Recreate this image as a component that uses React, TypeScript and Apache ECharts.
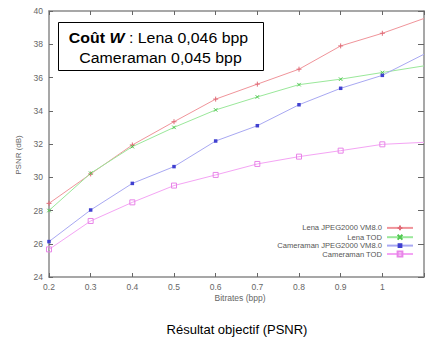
import React, { useEffect, useRef } from "react";
import * as echarts from "echarts";

const bitrates = [0.2, 0.3, 0.4, 0.5, 0.6, 0.7, 0.8, 0.9, 1.0, 1.1];
const lenaJpeg = [28.43, 30.2, 31.94, 33.34, 34.7, 35.6, 36.5, 37.9, 38.66, 39.55];
const lenaTod = [28.0, 30.24, 31.84, 33.0, 34.05, 34.83, 35.57, 35.9, 36.3, 36.7];
const cameraJpeg = [26.13, 28.03, 29.63, 30.64, 32.18, 33.1, 34.36, 35.35, 36.13, 37.4];
const cameraTod = [25.66, 27.37, 28.49, 29.5, 30.14, 30.8, 31.24, 31.6, 31.98, 32.1];
const seriesNames = ["Lena JPEG2000 VM8.0", "Lena TOD", "Cameraman JPEG2000 VM8.0", "Cameraman TOD"];
const yTicks = { min: 24, max: 40, interval: 2 };
const xTicks = { min: 0.2, max: 1.1, interval: 0.1 };

const FONT = "'Liberation Sans', Arial, sans-serif";

export default function App() {
  const ref = useRef<HTMLDivElement>(null);
  useEffect(() => {
    const chart = echarts.init(ref.current!, null, { renderer: "svg" });
    const pair = (ys: number[]) =>
      bitrates.map((x, i) =>
        x > 1.05 ? { value: [x, ys[i]], symbol: "none" } : { value: [x, ys[i]] }
      );
    const axisGrey = "#8a8a8a";
    const mk = (name: string, data: number[], lineColor: string, symbol: string, symColor: string, filled: boolean, size: number) => ({
      name,
      type: "line",
      data: pair(data),
      symbol,
      symbolSize: size,
      showSymbol: true,
      lineStyle: { color: lineColor, width: 1 },
      itemStyle: filled
        ? { color: symColor, borderColor: symColor, borderWidth: 0 }
        : { color: "none", borderColor: symColor, borderWidth: 1 },
      emphasis: { disabled: true },
      clip: true,
    });
    chart.setOption({
      animation: false,
      backgroundColor: "#ffffff",
      textStyle: { fontFamily: FONT },
      grid: { left: 49, top: 11, bottom: 63, right: -4, containLabel: false },
      xAxis: [
        {
          type: "value",
          min: xTicks.min,
          max: xTicks.max,
          interval: xTicks.interval,
          position: "bottom",
          axisLine: { show: true, lineStyle: { color: axisGrey, width: 1.5 } },
          axisTick: { show: true, inside: true, length: 4, lineStyle: { color: "#666" } },
          splitLine: { show: false },
          axisLabel: {
            fontSize: 8.5,
            color: "#666",
            margin: 5,
            fontFamily: FONT,
            formatter: (v: number) => (v > 1.05 ? "" : String(+v.toFixed(1))),
          },
        },
        {
          type: "value",
          min: xTicks.min,
          max: xTicks.max,
          interval: xTicks.interval,
          position: "top",
          axisLine: { show: true, lineStyle: { color: axisGrey, width: 1.5 } },
          axisTick: { show: true, inside: true, length: 4, lineStyle: { color: "#666" } },
          splitLine: { show: false },
          axisLabel: { show: false },
        },
      ],
      yAxis: [
        {
          type: "value",
          min: yTicks.min,
          max: yTicks.max,
          interval: yTicks.interval,
          position: "left",
          axisLine: { show: true, lineStyle: { color: axisGrey, width: 1.5 } },
          axisTick: { show: true, inside: true, length: 4, lineStyle: { color: "#666" } },
          splitLine: { show: false },
          axisLabel: { fontSize: 8.5, color: "#666", margin: 6, fontFamily: FONT },
        },
        {
          type: "value",
          min: yTicks.min,
          max: yTicks.max,
          interval: yTicks.interval,
          position: "right",
          axisLine: { show: true, lineStyle: { color: axisGrey, width: 1.5 } },
          axisTick: { show: true, inside: true, length: 6, lineStyle: { color: "#666" } },
          splitLine: { show: false },
          axisLabel: { show: false },
        },
      ],
      legend: {
        orient: "vertical",
        right: 13,
        top: 223,
        align: "right",
        itemWidth: 26,
        itemHeight: 6,
        itemGap: -0.5,
        padding: 0,
        textStyle: { fontSize: 7.6, lineHeight: 8, color: "#555", fontFamily: FONT, padding: [0, 0, 0, 0] },
        data: seriesNames,
      },
      series: [
        mk(seriesNames[0], lenaJpeg, "#f0949a", "path://M5,0L5,10M0,5L10,5", "#e06c78", false, 5),
        mk(seriesNames[1], lenaTod, "#9ae89a", "path://M1,1L9,9M9,1L1,9", "#50c850", false, 3.5),
        mk(seriesNames[2], cameraJpeg, "#a8a8f2", "rect", "#4040d0", true, 3.5),
        mk(seriesNames[3], cameraTod, "#f4a4f4", "rect", "#e884e8", false, 5),
      ],
      graphic: [
        {
          type: "group",
          left: 58,
          top: 22,
          children: [
            { type: "rect", shape: { x: 0, y: 0, width: 205, height: 48 }, style: { fill: "#fff", stroke: "#000", lineWidth: 1 } },
            {
              type: "text",
              x: 100,
              y: 15,
              scaleX: 1.06,
              style: {
                text: "{b|Coût }{bi|W}{n| : Lena 0,046 bpp}",
                align: "center",
                verticalAlign: "middle",
                rich: {
                  b: { fontSize: 15, fontWeight: "bold", fill: "#000", fontFamily: FONT },
                  bi: { fontSize: 15, fontWeight: "bold", fontStyle: "italic", fill: "#000", fontFamily: FONT },
                  n: { fontSize: 15, fill: "#000", fontFamily: FONT },
                },
              },
            },
            {
              type: "text",
              x: 102,
              y: 35,
              scaleX: 1.06,
              style: { text: "Cameraman 0,045 bpp", align: "center", verticalAlign: "middle", fontSize: 15, fill: "#000", fontFamily: FONT },
            },
          ],
        },
        {
          type: "text",
          x: 18,
          y: 155,
          rotation: Math.PI / 2,
          style: { text: "PSNR (dB)", align: "center", verticalAlign: "middle", fontSize: 8, fill: "#666", fontFamily: FONT },
        },
        {
          type: "text",
          x: 240,
          y: 298,
          style: { text: "Bitrates (bpp)", align: "center", verticalAlign: "middle", fontSize: 8.5, fill: "#666", fontFamily: FONT },
        },
        {
          type: "text",
          x: 237,
          y: 329,
          style: { text: "Résultat objectif (PSNR)", align: "center", verticalAlign: "middle", fontSize: 13, fill: "#000", fontFamily: FONT },
        },
      ],
    });
    return () => chart.dispose();
  }, []);
  return <div ref={ref} style={{ width: 427, height: 340, position: "absolute", left: 0, top: 0 }} />;
}
